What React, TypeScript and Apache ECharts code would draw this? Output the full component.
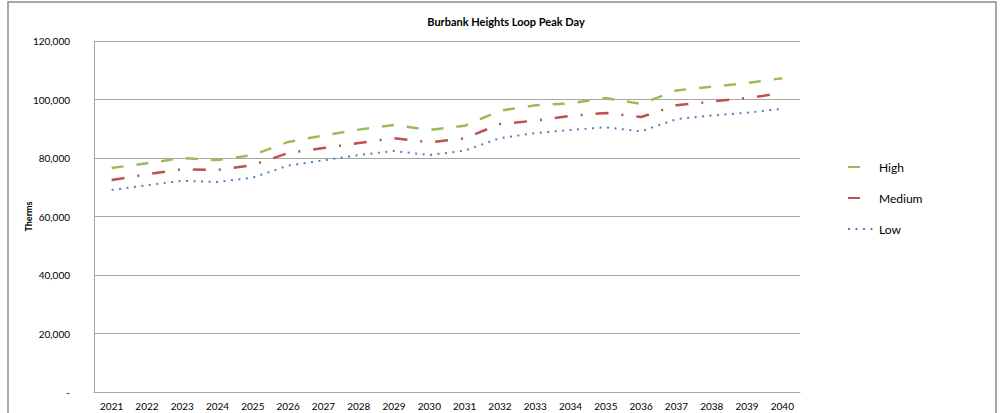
import React, { useEffect, useRef } from "react";
import * as echarts from "echarts";

const years = ["2021","2022","2023","2024","2025","2026","2027","2028","2029","2030","2031","2032","2033","2034","2035","2036","2037","2038","2039","2040"];
const high = [76600, 78200, 80000, 79300, 81000, 85500, 87700, 89700, 91300, 89600, 91000, 96200, 98000, 98700, 100500, 98500, 103100, 104400, 105600, 107300];
const medium = [72500, 74400, 76200, 75900, 77600, 81700, 83400, 85100, 86800, 85300, 86700, 91600, 92800, 94400, 95400, 94000, 98000, 99300, 100500, 102200];
const low = [69100, 70700, 72200, 71800, 73300, 77400, 79200, 81000, 82400, 81000, 82500, 86800, 88500, 89600, 90500, 89100, 93300, 94500, 95500, 96800];

const FONT = "Lato, 'Liberation Sans', sans-serif";

export default function App() {
  const ref = useRef<HTMLDivElement>(null);
  useEffect(() => {
    if (!ref.current) return;
    const chart = echarts.init(ref.current, null, { renderer: "svg" });
    chart.setOption({
      animation: false,
      backgroundColor: "#ffffff",
      title: {
        text: "Burbank Heights Loop Peak Day",
        left: 501,
        textAlign: "center",
        top: 11,
        textStyle: { fontFamily: FONT, fontSize: 11, fontWeight: "bold", color: "#000" },
      },
      graphic: [
        {
          type: "rect",
          shape: { x: 8, y: 2, width: 988, height: 430 },
          style: { fill: "none", stroke: "#8c8c8c", lineWidth: 1.5 },
          silent: true,
        },
      ],
      legend: {
        orient: "vertical",
        left: 842,
        top: 156,
        itemGap: 19,
        itemWidth: 26,
        itemHeight: 14,
        itemStyle: { opacity: 0 },
        textStyle: { fontFamily: FONT, fontSize: 12, color: "#000" },
        data: [
          { name: "High", lineStyle: { type: [12, 30] } },
          { name: "Medium", lineStyle: { type: [12, 30] } },
          { name: "Low" },
        ],
      },
      grid: { left: 94, right: 203, top: 41, bottom: 21, containLabel: false },
      xAxis: {
        type: "category",
        data: years,
        boundaryGap: true,
        axisLine: { lineStyle: { color: "#a6a6a6", width: 1 } },
        axisTick: { show: false },
        axisLabel: { fontFamily: FONT, fontSize: 10, color: "#000", margin: 9, interval: 0 },
      },
      yAxis: {
        type: "value",
        min: 0,
        max: 120000,
        interval: 20000,
        name: "Therms",
        nameLocation: "middle",
        nameGap: 61,
        nameMoveOverlap: false,
        nameRotate: 90,
        nameTextStyle: { fontFamily: FONT, fontSize: 9, fontWeight: "bold", color: "#000" },
        axisLine: { show: true, lineStyle: { color: "#a6a6a6", width: 1 } },
        axisTick: { show: false },
        splitLine: { lineStyle: { color: "#a6a6a6", width: 1 } },
        axisLabel: {
          fontFamily: FONT,
          fontSize: 10,
          color: "#000",
          margin: 24,
          formatter: (v: number) => (v === 0 ? "-" : v.toLocaleString("en-US")),
        },
      },
      series: [
        {
          name: "High",
          type: "line",
          data: high,
          showSymbol: false,
          symbol: "none",
          itemStyle: { color: "#9BBB59" },
          lineStyle: { color: "#9BBB59", width: 2.5, type: [12, 13], cap: "butt" },
        },
        {
          name: "Medium",
          type: "line",
          data: medium,
          showSymbol: false,
          symbol: "none",
          itemStyle: { color: "#C0504D" },
          lineStyle: { color: "#C0504D", width: 2.5, type: [13, 13, 2, 13], cap: "butt" },
        },
        {
          name: "Low",
          type: "line",
          data: low,
          showSymbol: false,
          symbol: "none",
          itemStyle: { color: "#4F81BD" },
          lineStyle: { color: "#4F81BD", width: 2, type: [2, 5.5], cap: "butt" },
        },
      ],
    });
    return () => chart.dispose();
  }, []);
  return (
    <div
      ref={ref}
      style={{ position: "absolute", left: 0, top: 0, width: 1003, height: 413 }}
    />
  );
}
